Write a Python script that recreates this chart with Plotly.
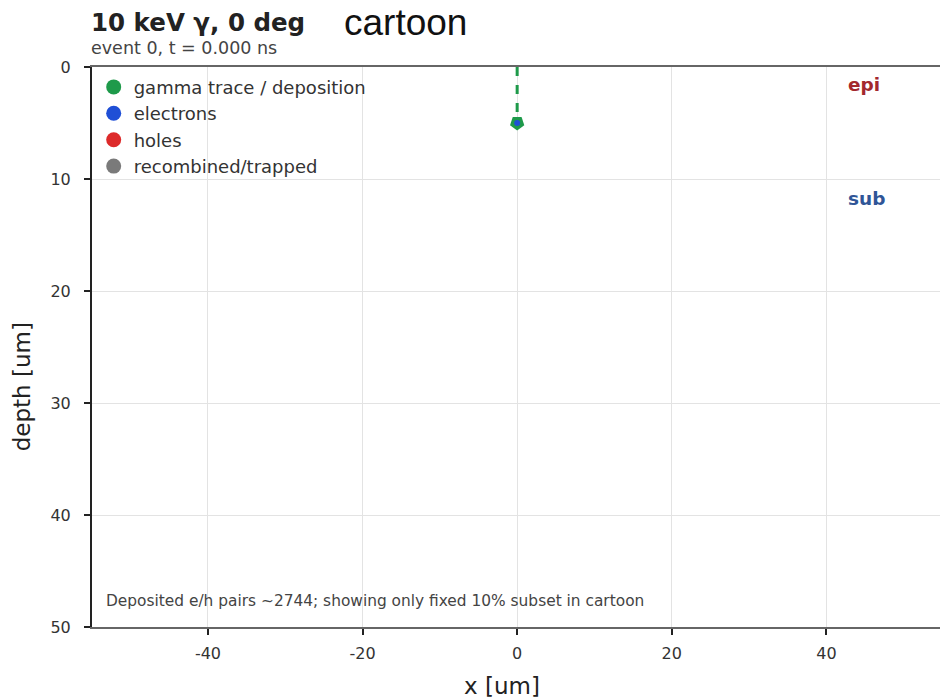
import plotly.graph_objects as go

# Event data (x in um, depth in um)
gamma_x = [0.0, 0.0]
gamma_depth = [0.0, 5.0]
electron_x = [0.0]
electron_depth = [5.0]
hole_x = []
hole_depth = []
trapped_x = []
trapped_depth = []

legend_names = ["gamma trace / deposition", "electrons", "holes", "recombined/trapped"]
legend_colors = ["#1e9a4a", "#1f4fd6", "#dd2a2a", "#7a7a7a"]

x_ticks = [-40, -20, 0, 20, 40]
depth_ticks = [0, 10, 20, 30, 40, 50]

layer_labels = ["epi", "sub"]
layer_label_x = [42.5, 42.5]
layer_label_depth = [1.6, 11.7]
layer_label_colors = ["#a3282e", "#2f5597"]

pairs_deposited = 2744

fig = go.Figure()

# gamma path into the sensor
fig.add_trace(go.Scatter(
    x=gamma_x, y=gamma_depth, mode="lines",
    line=dict(color=legend_colors[0], width=3, dash="dash"),
    showlegend=False, hoverinfo="skip"))
# deposition point
fig.add_trace(go.Scatter(
    x=gamma_x[-1:], y=gamma_depth[-1:], mode="markers",
    marker=dict(symbol="pentagon", angle=180, size=15, color=legend_colors[0]),
    showlegend=False, hoverinfo="skip"))
fig.add_trace(go.Scatter(
    x=electron_x, y=electron_depth, mode="markers",
    marker=dict(size=6, color=legend_colors[1]),
    showlegend=False))
fig.add_trace(go.Scatter(
    x=hole_x, y=hole_depth, mode="markers",
    marker=dict(size=6, color=legend_colors[2]), showlegend=False))
fig.add_trace(go.Scatter(
    x=trapped_x, y=trapped_depth, mode="markers",
    marker=dict(size=6, color=legend_colors[3]), showlegend=False))

# legend entries
for name, color in zip(legend_names, legend_colors):
    fig.add_trace(go.Scatter(
        x=[None], y=[None], mode="markers", name=name,
        marker=dict(size=15, color=color)))

for txt, lx, ly, col in zip(layer_labels, layer_label_x, layer_label_depth, layer_label_colors):
    fig.add_annotation(x=lx, y=ly, text=f"<b>{txt}</b>", showarrow=False,
                       xanchor="left", yanchor="middle",
                       font=dict(family="DejaVu Sans", size=18.5, color=col))

fig.add_annotation(
    x=0, y=47.7, xref="paper", yref="y", xshift=12,
    text=f"Deposited e/h pairs ~{pairs_deposited}; showing only fixed 10% subset in cartoon",
    showarrow=False, xanchor="left", yanchor="middle",
    font=dict(family="DejaVu Sans", size=15.4, color="#444444"))

# titles
fig.add_annotation(
    x=0, y=1, xref="paper", yref="paper", xshift=-3, yshift=45,
    text="<b>10 keV γ, 0 deg</b>", showarrow=False, xanchor="left", yanchor="middle",
    font=dict(family="DejaVu Sans", size=24.5, color="#222222"))
fig.add_annotation(
    x=0, y=1, xref="paper", yref="paper", xshift=-3, yshift=19,
    text="event 0, t = 0.000 ns", showarrow=False, xanchor="left", yanchor="middle",
    font=dict(family="DejaVu Sans", size=17.5, color="#444444"))
fig.add_annotation(
    x=0.298, y=1, xref="paper", yref="paper", xshift=-3, yshift=45,
    text="cartoon", showarrow=False, xanchor="left", yanchor="middle",
    font=dict(family="Liberation Sans", size=37, color="#111111"))

# axis titles
fig.add_annotation(
    x=0.483, y=0, xref="paper", yref="paper", yshift=-59,
    text="x [um]", showarrow=False, xanchor="center", yanchor="middle",
    font=dict(family="DejaVu Sans", size=23, color="#222222"))
fig.add_annotation(
    x=0, y=0.428, xref="paper", yref="paper", xshift=-70,
    text="depth [um]", showarrow=False, textangle=-90, xanchor="center", yanchor="middle",
    font=dict(family="DejaVu Sans", size=23, color="#222222"))

fig.update_xaxes(
    range=[-55, 54.7], tickvals=x_ticks, ticktext=[str(v) for v in x_ticks],
    showgrid=True, gridcolor="#e3e3e3", gridwidth=1, zeroline=False,
    showline=True, linecolor="#666666", linewidth=2, mirror=True,
    ticks="outside", ticklen=6, tickcolor="#222222", tickwidth=2,
    ticklabelstandoff=5,
    tickfont=dict(family="DejaVu Sans", size=16, color="#333333"))
fig.update_yaxes(
    range=[50, 0], tickvals=depth_ticks, ticktext=[str(v) for v in depth_ticks],
    showgrid=True, gridcolor="#e3e3e3", gridwidth=1, zeroline=False,
    showline=True, linecolor="#222222", linewidth=2, mirror=False,
    ticks="outside", ticklen=6, tickcolor="#222222", tickwidth=2,
    ticklabelstandoff=10,
    tickfont=dict(family="DejaVu Sans", size=16, color="#333333"))

fig.update_layout(
    width=940, height=699,
    margin=dict(l=92, r=0, t=67, b=72),
    paper_bgcolor="white", plot_bgcolor="white",
    legend=dict(x=0.002, y=0.997, xanchor="left", yanchor="top",
                bgcolor="rgba(255,255,255,0)", itemsizing="trace",
                font=dict(family="DejaVu Sans", size=18, color="#333333"),
                tracegroupgap=0, itemwidth=30),
)

fig.write_html("out.html")
